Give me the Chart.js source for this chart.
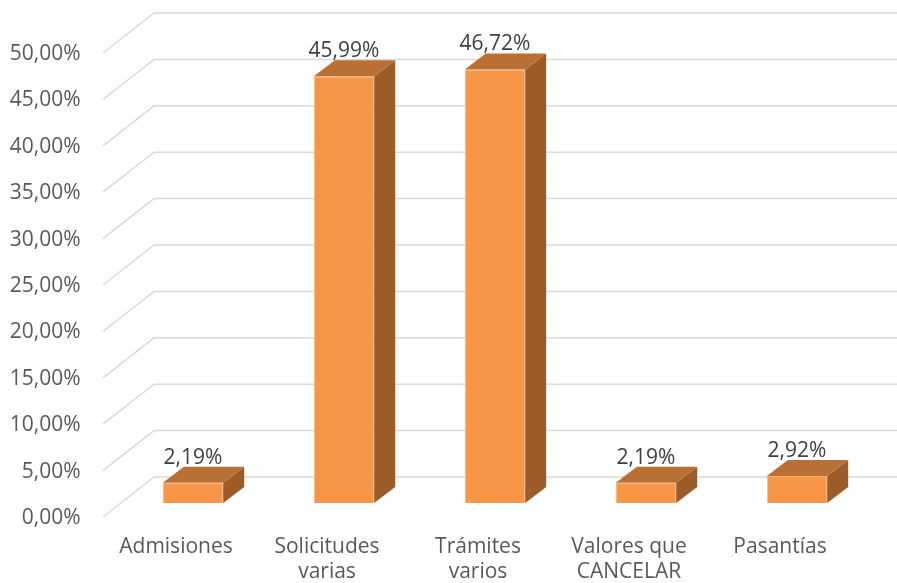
<!DOCTYPE html>
<html>
<head>
<meta charset="utf-8">
<script src="https://cdn.jsdelivr.net/npm/chart.js@4"></script>
<style>
  body { margin: 0; background: #ffffff; }
</style>
</head>
<body>
<canvas id="myChart" width="897" height="583"></canvas>
<script>
// categorías y porcentajes
const categories = ['Admisiones', ['Solicitudes', 'varias'], ['Trámites', 'varios'], ['Valores que', 'CANCELAR'], 'Pasantías'];
const percentages = [2.19, 45.99, 46.72, 2.19, 2.92];
const yTicks = [0, 5, 10, 15, 20, 25, 30, 35, 40, 45, 50];

// profundidad del efecto 3D
const depthX = 21, depthY = 16;       // barras
const wallX = 51, wallY = 40;         // pared lateral
const backShift = 26;                 // pared del fondo respecto al frente

const fmt = v => v.toFixed(2).replace('.', ',') + '%';

Chart.defaults.font.family = "'Open Sans', sans-serif";
Chart.defaults.font.size = 21;
Chart.defaults.color = '#595959';

// dibuja paredes y líneas de cuadrícula inclinadas
const wallPlugin = {
    id: 'wall3d',
    beforeDatasetsDraw(chart) {
        const ctx = chart.ctx;
        const y = chart.scales.y;
        const left = chart.chartArea.left + 36.5;
        ctx.save();
        ctx.strokeStyle = '#d9d9d9';
        ctx.lineWidth = 1.5;
        yTicks.forEach(v => {
            const yb = y.getPixelForValue(v) - backShift;
            ctx.beginPath();
            ctx.moveTo(left - wallX, yb + wallY);
            ctx.lineTo(left, yb);
            ctx.lineTo(chart.width, yb);
            ctx.stroke();
        });
        ctx.restore();
    }
};

// caras superior y lateral de las barras + etiquetas
const barPlugin = {
    id: 'bar3d',
    afterDatasetsDraw(chart) {
        const ctx = chart.ctx;
        const meta = chart.getDatasetMeta(0);
        ctx.save();
        meta.data.forEach((bar, i) => {
            const l = bar.x - bar.width / 2, r = bar.x + bar.width / 2;
            const t = bar.y, b = bar.base;
            // lateral
            ctx.fillStyle = '#9b5c2a';
            ctx.beginPath();
            ctx.moveTo(r, t);
            ctx.lineTo(r + depthX, t - depthY);
            ctx.lineTo(r + depthX, b - depthY);
            ctx.lineTo(r, b);
            ctx.closePath();
            ctx.fill();
            // superior
            ctx.fillStyle = '#ba7034';
            ctx.beginPath();
            ctx.moveTo(l, t);
            ctx.lineTo(l + depthX, t - depthY);
            ctx.lineTo(r + depthX, t - depthY);
            ctx.lineTo(r, t);
            ctx.closePath();
            ctx.fill();
            // etiqueta de valor
            ctx.fillStyle = '#404040';
            ctx.font = "21px 'Open Sans', sans-serif";
            ctx.textAlign = 'center';
            ctx.textBaseline = 'middle';
            ctx.fillText(fmt(percentages[i]), bar.x, t - depthY - 9);
        });
        ctx.restore();
    }
};

const ctx = document.getElementById('myChart').getContext('2d');

const myChart = new Chart(ctx, {
    type: 'bar',
    data: {
        labels: categories,
        datasets: [{
            data: percentages,
            backgroundColor: '#f79646',
            borderColor: '#fab07a',
            borderWidth: 1,
            barPercentage: 0.4,
            categoryPercentage: 1,
        }],
    },
    options: {
        responsive: false,
        animation: false,
        layout: { padding: { top: 39, right: 24.5, left: 0, bottom: 0 } },
        plugins: {
            legend: { display: false },
            tooltip: { enabled: false },
        },
        scales: {
            x: {
                grid: { display: false, drawTicks: false },
                border: { display: false },
                ticks: {
                    color: '#595959',
                    maxRotation: 0,
                    autoSkip: false,
                    labelOffset: -17,
                    padding: 31,
                },
                afterFit(scale) {
                    scale.height = 80;
                    scale.paddingLeft = 0;
                    scale.paddingRight = 0;
                },
            },
            y: {
                min: 0,
                max: 50,
                grid: { display: false, drawTicks: false },
                border: { display: false },
                ticks: {
                    stepSize: 5,
                    color: '#595959',
                    padding: 37,
                    labelOffset: 15,
                    callback: v => fmt(v),
                },
                afterFit(scale) {
                    scale.width = 117.5;
                    scale.paddingTop = 0;
                    scale.paddingBottom = 0;
                },
            },
        },
    },
    plugins: [wallPlugin, barPlugin],
});
</script>
</body>
</html>
